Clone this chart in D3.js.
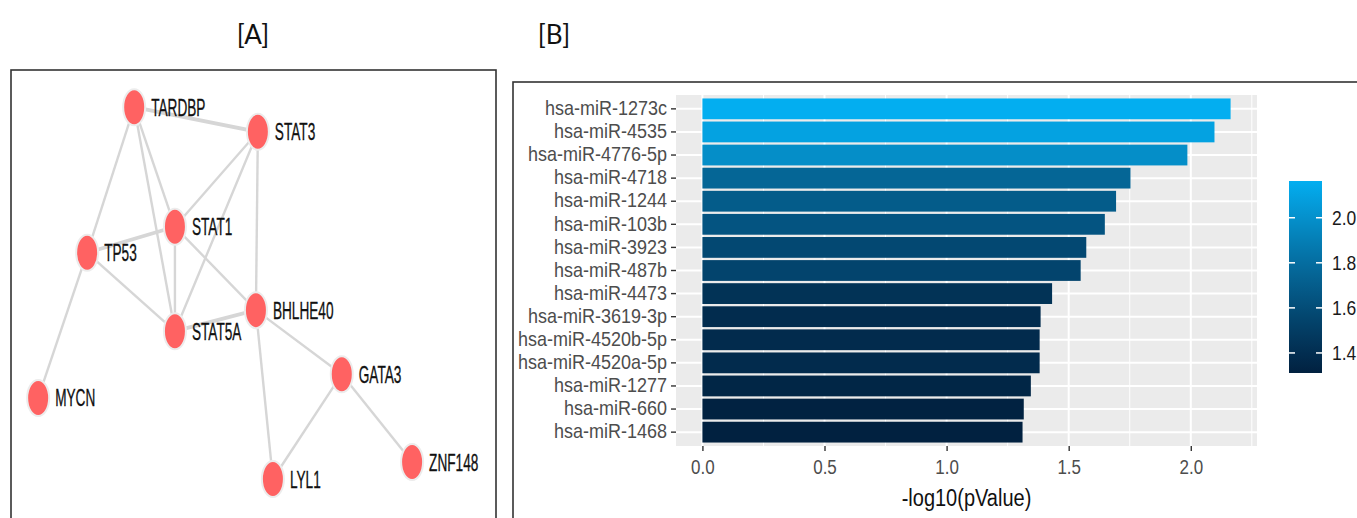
<!DOCTYPE html>
<html><head><meta charset="utf-8">
<script src="https://cdn.jsdelivr.net/npm/d3@7"></script>
<style>body{margin:0;background:#fff;}svg{display:block;}</style>
</head><body>
<svg id="chart" width="1357" height="518"></svg>
<script>
// ---------- Panel A: network ----------
const nodeNames = ["TARDBP","STAT3","STAT1","TP53","BHLHE40","STAT5A","GATA3","MYCN","ZNF148","LYL1"];
const nodeX = [0.254,0.509,0.338,0.157,0.505,0.338,0.682,0.056,0.827,0.540];
const nodeY = [0.083,0.138,0.350,0.408,0.536,0.583,0.679,0.732,0.875,0.913];
const edgeSource = ["TARDBP","TARDBP","TARDBP","TARDBP","STAT3","STAT3","STAT3","STAT1","STAT1","STAT1","TP53","TP53","STAT5A","BHLHE40","BHLHE40","GATA3","GATA3"];
const edgeTarget = ["STAT3","TP53","STAT1","STAT5A","STAT1","STAT5A","BHLHE40","TP53","STAT5A","BHLHE40","STAT5A","MYCN","BHLHE40","GATA3","LYL1","LYL1","ZNF148"];
const edgeWeight = [2,1,1,1,1,1,1,2,1,1,1,1,2,1,1,1,1];

// ---------- Panel B: bar chart ----------
const categories = ["hsa-miR-1273c","hsa-miR-4535","hsa-miR-4776-5p","hsa-miR-4718","hsa-miR-1244","hsa-miR-103b","hsa-miR-3923","hsa-miR-487b","hsa-miR-4473","hsa-miR-3619-3p","hsa-miR-4520b-5p","hsa-miR-4520a-5p","hsa-miR-1277","hsa-miR-660","hsa-miR-1468"];
const values = [2.163,2.097,1.986,1.753,1.694,1.648,1.572,1.549,1.432,1.385,1.381,1.381,1.345,1.316,1.311];
const xTicks = [0,0.5,1.0,1.5,2.0];
const xMinor = [0.25,0.75,1.25,1.75,2.25];
const legendTicks = [1.4,1.6,1.8,2.0];
const panelTitles = ["[A]","[B]"];
const xTitle = "-log10(pValue)";

const svg = d3.select("#chart");
const FONT = "'Liberation Sans', Arial, sans-serif";
const SY = 1.15; // vertical stretch of the source image text

// titles
svg.append("text").attr("x",253).attr("y",44).attr("text-anchor","middle")
  .attr("font-family","Lato, 'Open Sans', sans-serif").attr("font-size",26).attr("fill","#111").text(panelTitles[0]);
svg.append("text").attr("x",554).attr("y",44).attr("text-anchor","middle")
  .attr("font-family","Lato, 'Open Sans', sans-serif").attr("font-size",26).attr("fill","#111").text(panelTitles[1]);

// Panel A box
const A = {l:11, t:70, r:496, b:518};
svg.append("rect").attr("x",A.l).attr("y",A.t).attr("width",A.r-A.l).attr("height",A.b-A.t+20)
  .attr("fill","none").attr("stroke","#333").attr("stroke-width",1.6);

const nx = d3.scaleLinear().domain([0,1]).range([A.l, A.r]);
const ny = d3.scaleLinear().domain([0,1]).range([A.t, A.b]);
const nodes = nodeNames.map((n,i)=>({name:n, x:nx(nodeX[i]), y:ny(nodeY[i])}));
const byName = Object.fromEntries(nodes.map(d=>[d.name,d]));
const edges = edgeSource.map((s,i)=>({s:byName[s], t:byName[edgeTarget[i]], w:edgeWeight[i]}));

const gA = svg.append("g");
gA.selectAll("line.edge").data(edges).join("line")
  .attr("x1",d=>d.s.x).attr("y1",d=>d.s.y).attr("x2",d=>d.t.x).attr("y2",d=>d.t.y)
  .attr("stroke","#d6d6d6").attr("stroke-width",d=>d.w===2?3.8:2.4);
gA.selectAll("ellipse").data(nodes).join("ellipse")
  .attr("cx",d=>d.x).attr("cy",d=>d.y).attr("rx",11).attr("ry",18)
  .attr("fill","#ff6262").attr("stroke","#ececec").attr("stroke-width",2);
gA.selectAll("text.lab").data(nodes).join("text")
  .attr("transform",d=>`translate(${d.x+17},${d.y+8.5}) scale(0.62,1.05)`)
  .attr("font-family",FONT).attr("font-size",22).attr("fill","#111")
  .attr("stroke","#111").attr("stroke-width",0.3).text(d=>d.name);

// Panel B box
svg.append("rect").attr("x",513).attr("y",82).attr("width",900).attr("height",500)
  .attr("fill","none").attr("stroke","#333").attr("stroke-width",1.6);

const P = {l:676, r:1257, t:95, b:446};
const maxV = d3.max(values);
const x = d3.scaleLinear().domain([-0.05*maxV, 1.05*maxV]).range([P.l, P.r]);
const y = d3.scaleBand().domain(categories).range([P.t, P.b]).paddingInner(0.1).paddingOuter(0.15);
const color = d3.scaleLinear().domain([d3.min(values), maxV]).range(["#012140","#03aef0"]).interpolate(d3.interpolateLab);

const gB = svg.append("g");
gB.append("rect").attr("x",P.l).attr("y",P.t).attr("width",P.r-P.l).attr("height",P.b-P.t).attr("fill","#ebebeb");
gB.selectAll("line.minor").data(xMinor).join("line")
  .attr("x1",d=>x(d)).attr("x2",d=>x(d)).attr("y1",P.t).attr("y2",P.b).attr("stroke","#fff").attr("stroke-width",1);
gB.selectAll("line.major").data(xTicks).join("line")
  .attr("x1",d=>x(d)).attr("x2",d=>x(d)).attr("y1",P.t).attr("y2",P.b).attr("stroke","#fff").attr("stroke-width",2);
gB.selectAll("line.hmajor").data(categories).join("line")
  .attr("x1",P.l).attr("x2",P.r).attr("y1",d=>y(d)+y.bandwidth()/2).attr("y2",d=>y(d)+y.bandwidth()/2)
  .attr("stroke","#fff").attr("stroke-width",2);
gB.selectAll("rect.bar").data(categories).join("rect")
  .attr("x",x(0)).attr("y",d=>y(d)).attr("height",y.bandwidth())
  .attr("width",(d,i)=>x(values[i])-x(0)).attr("fill",(d,i)=>color(values[i]));

// y axis
const yAxis = gB.append("g").attr("transform",`translate(${P.l},0)`)
  .call(d3.axisLeft(y).tickSize(5).tickPadding(4));
yAxis.select(".domain").remove();
yAxis.selectAll(".tick line").attr("stroke","#333").attr("stroke-width",1.4);
yAxis.selectAll(".tick text").attr("font-family",FONT).attr("font-size",18).attr("fill","#4d4d4d")
  .attr("dy","0.3em").attr("transform",`scale(1,${SY})`);

// x axis
const xAxis = gB.append("g").attr("transform",`translate(0,${P.b})`)
  .call(d3.axisBottom(x).tickValues(xTicks).tickFormat(d3.format(".1f")).tickSize(5).tickPadding(7));
xAxis.select(".domain").remove();
xAxis.selectAll(".tick line").attr("stroke","#333").attr("stroke-width",1.4);
xAxis.selectAll(".tick text").attr("font-family",FONT).attr("font-size",17).attr("fill","#4d4d4d")
  .attr("transform",`scale(1,${SY})`);

svg.append("text").attr("transform",`translate(${(P.l+P.r)/2},506) scale(1,${SY})`).attr("text-anchor","middle")
  .attr("font-family",FONT).attr("font-size",20).attr("fill","#111").text(xTitle);

// legend colorbar
const L = {l:1289, r:1322, t:181, b:373};
const defs = svg.append("defs");
const grad = defs.append("linearGradient").attr("id","cb").attr("x1",0).attr("y1",1).attr("x2",0).attr("y2",0);
d3.range(0,1.0001,0.1).forEach(t=>{
  const v = d3.min(values) + t*(maxV-d3.min(values));
  grad.append("stop").attr("offset",t).attr("stop-color",color(v));
});
svg.append("rect").attr("x",L.l).attr("y",L.t).attr("width",L.r-L.l).attr("height",L.b-L.t).attr("fill","url(#cb)");
const ly = d3.scaleLinear().domain([d3.min(values), maxV]).range([L.b, L.t]);
const gL = svg.append("g");
gL.selectAll("line.tl").data(legendTicks).join("line")
  .attr("x1",L.l).attr("x2",L.l+6).attr("y1",d=>ly(d)).attr("y2",d=>ly(d)).attr("stroke","#fff").attr("stroke-width",1.5);
gL.selectAll("line.tr").data(legendTicks).join("line")
  .attr("x1",L.r-6).attr("x2",L.r).attr("y1",d=>ly(d)).attr("y2",d=>ly(d)).attr("stroke","#fff").attr("stroke-width",1.5);
gL.selectAll("text").data(legendTicks).join("text")
  .attr("transform",d=>`translate(${L.r+10},${ly(d)+7}) scale(1,${SY})`).attr("font-family",FONT).attr("font-size",17.5).attr("fill","#1a1a1a")
  .text(d=>d3.format(".1f")(d));
</script>
</body></html>
